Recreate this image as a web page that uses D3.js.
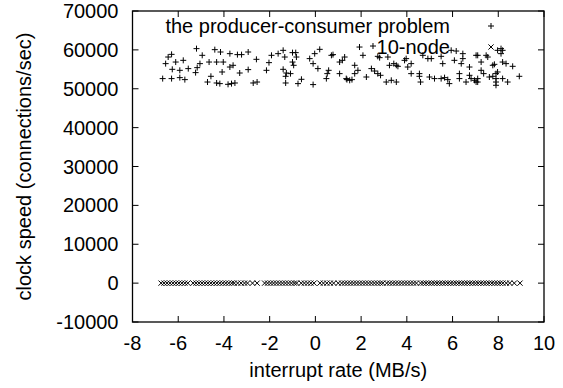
<!DOCTYPE html>
<html><head><meta charset="utf-8">
<script src="https://cdn.jsdelivr.net/npm/d3@7"></script>
<style>body{margin:0;background:#fff}text{font-family:"Liberation Sans",Arial,sans-serif;fill:#000}</style>
</head><body><svg id="c" width="563" height="388"></svg>
<script>
const xTicks=[-8,-6,-4,-2,0,2,4,6,8,10];
const yTicks=[-10000,0,10000,20000,30000,40000,50000,60000,70000];
const seriesNames=["the producer-consumer problem","10-node"];
const plusX=[-5.20,-4.40,-6.29,-6.44,-4.95,-6.55,-6.11,-5.78,-5.05,-4.65,-4.32,-6.26,-5.93,-5.56,-5.17,-5.24,-6.68,-6.29,-5.93,-5.71,-4.57,-4.72,-4.32,-4.15,-3.74,-3.41,-3.23,-2.94,-2.58,-4.03,-3.74,-3.60,-4.08,-3.31,-2.94,-2.14,-2.03,-1.92,-1.63,-1.41,-4.18,-3.82,-3.67,-3.52,-2.72,-2.55,-1.41,-1.30,-1.00,-0.86,-0.83,-1.34,-0.03,0.19,0.70,0.77,-0.25,-1.00,-0.95,-0.10,0.11,1.06,1.18,-1.27,-1.09,-1.30,0.58,0.52,0.48,1.06,1.38,-0.61,-0.76,-0.10,1.93,2.08,2.52,2.73,2.81,3.17,1.28,1.72,1.86,1.72,1.35,1.50,1.60,2.23,2.45,2.59,2.73,2.85,3.24,3.43,3.54,3.61,3.90,3.97,4.04,4.19,3.10,3.32,3.54,5.94,6.16,6.45,4.70,4.92,5.07,5.50,6.08,6.45,7.03,5.57,6.38,6.74,4.19,4.55,4.55,4.60,4.99,5.21,5.50,5.65,5.79,5.86,6.30,6.30,6.74,6.81,6.59,6.96,7.10,7.97,8.12,8.19,8.12,7.10,7.47,7.54,7.25,7.76,7.83,8.19,8.34,8.63,7.25,7.36,7.97,7.90,7.10,7.03,7.61,7.76,7.90,7.90,7.90,8.19,8.41,8.92];
const plusY=[60320,60060,58850,58160,58600,56460,56870,57310,56460,56870,56870,55000,54740,55180,55430,54150,52610,52610,52860,52350,53200,51730,51480,59450,59030,58780,58780,59450,57570,56870,55590,56030,54310,54050,54920,54740,56720,58600,59030,59880,51320,51140,51320,51480,51480,51730,55000,51480,59290,59290,58160,58160,59030,60140,58600,58780,57750,56870,56030,56460,55180,56870,57310,54050,53890,53200,54740,53890,52610,53890,52350,52430,51320,51070,60730,58600,60990,58340,58000,58160,58160,56030,54740,53890,52610,52170,52350,53020,55180,54560,53890,53460,56030,56460,56030,55770,57310,57750,55590,56460,51730,52170,51730,59880,59700,59030,58600,57750,57750,58340,57310,57750,58600,56460,56460,55590,53890,53890,53200,51730,53020,52610,52610,52860,52350,51320,53890,52610,53460,52610,51730,52170,51730,59880,60320,59880,59030,58600,58600,58160,56870,56030,56280,56870,56460,55770,54740,53890,54310,53890,52610,51730,53020,53200,52610,51730,50890,52610,51730,53200];
const crossX=[-6.75,-6.62,-6.49,-6.36,-6.23,-6.10,-5.97,-5.84,-5.71,-5.58,-5.35,-5.22,-5.09,-4.96,-4.83,-4.70,-4.57,-4.44,-4.31,-4.18,-4.05,-3.92,-3.79,-3.66,-3.55,-3.40,-3.25,-3.10,-2.97,-2.75,-2.55,-2.22,-2.09,-1.96,-1.83,-1.70,-1.57,-1.44,-1.31,-1.18,-1.05,-0.92,-0.82,-0.62,-0.48,-0.34,-0.20,-0.06,0.20,0.35,0.50,0.65,0.80,1.00,1.15,1.28,1.41,1.54,1.67,1.80,1.93,2.06,2.19,2.32,2.45,2.58,2.71,2.84,2.95,3.12,3.25,3.38,3.51,3.64,3.77,3.90,4.03,4.16,4.29,4.42,4.60,4.72,4.84,4.96,5.08,5.20,5.32,5.44,5.56,5.68,5.80,5.92,6.04,6.16,6.28,6.40,6.52,6.64,6.76,6.88,7.00,7.12,7.24,7.36,7.48,7.60,7.72,7.84,7.96,8.08,8.20,8.35,8.50,8.70,8.95];
const crossY=[0,0,0,0,0,0,0,0,0,0,0,0,0,0,0,0,0,0,0,0,0,0,0,0,0,0,0,0,0,0,0,0,0,0,0,0,0,0,0,0,0,0,0,0,0,0,0,0,0,0,0,0,0,0,0,0,0,0,0,0,0,0,0,0,0,0,0,0,0,0,0,0,0,0,0,0,0,0,0,0,0,0,0,0,0,0,0,0,0,0,0,0,0,0,0,0,0,0,0,0,0,0,0,0,0,0,0,0,0,0,0,0,0,0,0];

const svg=d3.select("#c");
const L=132.5,R=544,T=11,B=322;
const x=d3.scaleLinear().domain([-8,10]).range([L,R]);
const y=d3.scaleLinear().domain([-10000,70000]).range([B,T]);
const fs=20;
const tl=6;
svg.append("rect").attr("x",L).attr("y",T).attr("width",R-L).attr("height",B-T).attr("fill","none").attr("stroke","#000").attr("stroke-width",1.3);
const g=svg.append("g").attr("stroke","#000").attr("stroke-width",1);
xTicks.forEach(t=>{g.append("line").attr("x1",x(t)).attr("x2",x(t)).attr("y1",B).attr("y2",B-tl);g.append("line").attr("x1",x(t)).attr("x2",x(t)).attr("y1",T).attr("y2",T+tl);});
yTicks.forEach(t=>{g.append("line").attr("x1",L).attr("x2",L+tl).attr("y1",y(t)).attr("y2",y(t));g.append("line").attr("x1",R).attr("x2",R-tl).attr("y1",y(t)).attr("y2",y(t));});
xTicks.forEach(t=>svg.append("text").attr("x",x(t)).attr("y",B+28).attr("text-anchor","middle").attr("font-size",fs).text(t));
yTicks.forEach(t=>svg.append("text").attr("x",L-14).attr("y",y(t)+7).attr("text-anchor","end").attr("font-size",fs).text(t));
svg.append("text").attr("x",(L+R)/2).attr("y",377).attr("text-anchor","middle").attr("font-size",fs).text("interrupt rate (MB/s)");
svg.append("text").attr("transform",`translate(31,${(T+B)/2}) rotate(-90)`).attr("text-anchor","middle").attr("font-size",fs).text("clock speed (connections/sec)");
function plus(sel,cx,cy){sel.append("path").attr("d",`M${cx-3},${cy}H${cx+3}M${cx},${cy-3}V${cy+3}`).attr("stroke","#000").attr("stroke-width",1);}
function cross(sel,cx,cy){sel.append("path").attr("d",`M${cx-2.6},${cy-2.6}L${cx+2.6},${cy+2.6}M${cx-2.6},${cy+2.6}L${cx+2.6},${cy-2.6}`).attr("stroke","#000").attr("stroke-width",1);}
const pts=svg.append("g");
plusX.forEach((v,i)=>plus(pts,x(v),y(plusY[i])));
crossX.forEach((v,i)=>cross(pts,x(v),y(crossY[i])));
const ly=[26,47];
seriesNames.forEach((n,i)=>{svg.append("text").attr("x",450).attr("y",ly[i]+7).attr("text-anchor","end").attr("font-size",fs).text(n);});
plus(svg,491,ly[0]);cross(svg,491,ly[1]);
</script></body></html>
